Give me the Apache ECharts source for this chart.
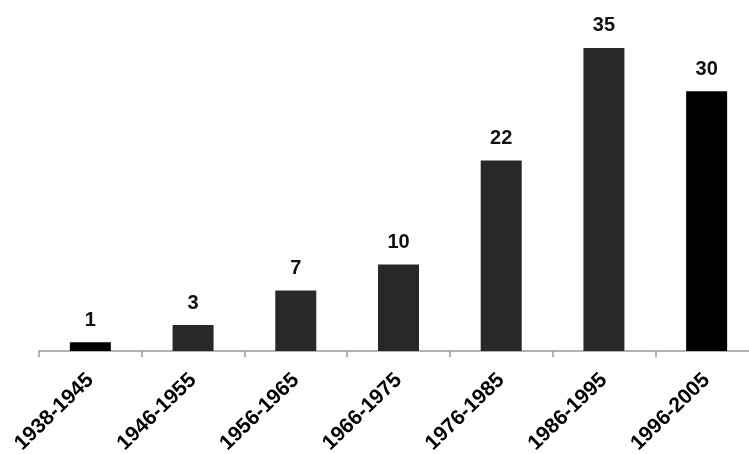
<!DOCTYPE html>
<html>
<head>
<meta charset="utf-8">
<script src="https://cdn.jsdelivr.net/npm/echarts@6/dist/echarts.min.js"></script>
<style>
html,body{margin:0;padding:0;background:#fff;}
#c{width:749px;height:454px;}
</style>
</head>
<body>
<div id="c"></div>
<script>
const categories = ['1938-1945','1946-1955','1956-1965','1966-1975','1976-1985','1986-1995','1996-2005'];
const values = [1, 3, 7, 10, 22, 35, 30];
const barColors = ['#000000','#282828','#282828','#282828','#282828','#282828','#000000'];

const chart = echarts.init(document.getElementById('c'));
chart.setOption({
  animation: false,
  backgroundColor: '#ffffff',
  grid: { left: 39, width: 719, top: 4.6, bottom: 103, containLabel: false, outerBoundsMode: 'none' },
  xAxis: {
    type: 'category',
    data: categories,
    boundaryGap: true,
    axisLine: { lineStyle: { color: '#999999', width: 1.5 } },
    axisTick: { show: true, alignWithLabel: false, length: 6, lineStyle: { color: '#999999', width: 1.5 } },
    axisLabel: {
      rotate: 44,
      interval: 0,
      margin: 26,
      color: '#000',
      fontSize: 21,
      fontWeight: 'bold',
      fontFamily: 'Liberation Sans, Arial, sans-serif'
    }
  },
  yAxis: {
    type: 'value',
    min: 0,
    max: 40,
    show: false,
    splitLine: { show: false }
  },
  series: [{
    type: 'bar',
    data: values.map((v, i) => ({ value: v, itemStyle: { color: barColors[i] } })),
    barWidth: 41,
    label: {
      show: true,
      position: 'top',
      distance: 12,
      color: '#111111',
      fontSize: 20,
      fontWeight: 'bold',
      fontFamily: 'Liberation Sans, Arial, sans-serif'
    }
  }]
});
</script>
</body>
</html>
